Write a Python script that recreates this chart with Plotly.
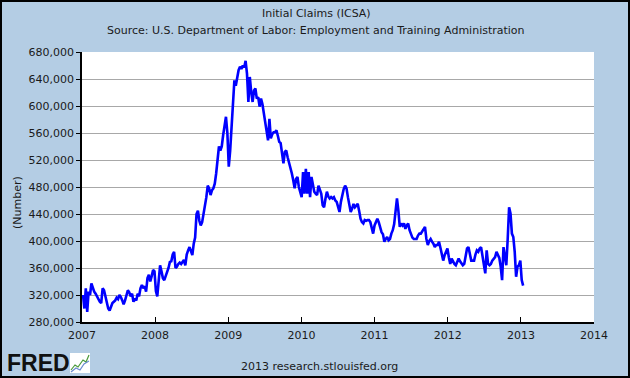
import datetime as dt
import plotly.graph_objects as go

# Weekly initial claims, thousands, weeks ending Saturday from 2007-01-06
claims_2007 = [320, 300, 330, 295, 325, 320, 337, 330, 325, 322, 318, 312, 310, 308, 330, 327, 318, 305, 300, 297,
               302, 308, 310, 312, 316, 314, 320, 317, 312, 306, 312, 318, 327, 324, 318, 322, 310, 315, 312, 322,
               318, 330, 335, 330, 333, 325, 345, 350, 340, 348, 357, 355]
claims_2008 = [326, 318, 340, 364, 355, 345, 342, 348, 352, 360, 369, 370, 380, 384, 360, 362, 366, 368, 366, 370,
               372, 364, 380, 386, 391, 385, 379, 396, 405, 440, 445, 430, 423, 428, 440, 448, 465, 482, 478, 468,
               475, 478, 485, 500, 520, 540, 534, 540, 557, 571, 584, 560]
claims_2009 = [510, 534, 564, 599, 638, 630, 643, 653, 658, 655, 660, 657, 667, 648, 606, 643, 621, 606, 623, 626,
               611, 613, 599, 611, 603, 590, 575, 564, 549, 581, 552, 558, 561, 561, 564, 556, 547, 545, 530, 515,
               532, 534, 524, 517, 510, 500, 490, 478, 492, 495, 480, 470]
claims_2010 = [465, 502, 470, 507, 470, 502, 465, 495, 482, 473, 470, 468, 482, 477, 470, 453, 450, 463, 473, 466,
               463, 465, 463, 465, 460, 458, 450, 443, 458, 468, 477, 482, 478, 465, 450, 443, 448, 455, 450, 452,
               455, 445, 433, 428, 426, 431, 430, 431, 431, 428, 418, 411]
claims_2011 = [423, 428, 433, 428, 418, 413, 410, 399, 403, 406, 401, 403, 411, 416, 425, 445, 463, 445, 421, 426,
               423, 426, 418, 423, 426, 416, 411, 405, 403, 403, 403, 408, 411, 411, 415, 418, 421, 403, 394, 400,
               403, 399, 396, 391, 394, 394, 399, 390, 379, 371, 379, 384]
claims_2012 = [389, 376, 366, 374, 369, 366, 364, 369, 374, 370, 366, 364, 366, 376, 389, 391, 380, 371, 371, 371,
               380, 386, 384, 389, 391, 376, 359, 352, 386, 366, 364, 366, 371, 374, 376, 384, 379, 375, 362, 342,
               391, 376, 364, 403, 450, 441, 411, 406, 384, 347, 362, 364]
claims_2013 = [371, 342, 334]

values_k = claims_2007 + claims_2008 + claims_2009 + claims_2010 + claims_2011 + claims_2012 + claims_2013
start = dt.date(2007, 1, 6)
dates = [start + dt.timedelta(weeks=i) for i in range(len(values_k))]
values = [v * 1000 for v in values_k]

y_ticks = list(range(280000, 680001, 40000))
y_labels = [f"{v:,}" for v in y_ticks]
x_ticks = [f"{y}-01-01" for y in range(2007, 2015)]
x_labels = [str(y) for y in range(2007, 2015)]

W, H = 630, 378
ML, MR, MT, MB = 82, 36, 52, 56
PW, PH = W - ML - MR, H - MT - MB

def px(x):
    return (x - ML) / PW

def py(y):
    return (H - MB - y) / PH

BG = "#b4cde4"
FONT = "DejaVu Sans"
TXT = "#1a1a1a"

def note(text, x, y, size=11, family=FONT, **kw):
    return dict(text=text, x=px(x), y=py(y), xref="paper", yref="paper", showarrow=False,
                xanchor=kw.pop("xanchor", "center"), yanchor="middle",
                font=dict(size=size, family=family, color=kw.pop("color", TXT)), **kw)

fig = go.Figure()
fig.add_trace(go.Scatter(x=dates, y=values, mode="lines",
                         line=dict(color="#0000ff", width=2.6), hoverinfo="skip"))

fig.update_layout(
    width=W, height=H,
    margin=dict(l=ML, r=MR, t=MT, b=MB, autoexpand=False),
    paper_bgcolor=BG, plot_bgcolor="white",
    showlegend=False,
    font=dict(family=FONT, size=11, color=TXT),
    xaxis=dict(range=["2007-01-01", "2014-01-01"], tickmode="array", tickvals=x_ticks, ticktext=x_labels,
               showgrid=False, zeroline=False, showline=True, linecolor="black", linewidth=1.5,
               ticks="inside", ticklen=5, tickcolor="black", tickwidth=1, ticklabelstandoff=2,
               automargin=False),
    yaxis=dict(range=[280000, 680000], tickmode="array", tickvals=y_ticks, ticktext=y_labels,
               showgrid=True, gridcolor="#a8a8a8", gridwidth=1, zeroline=False,
               showline=True, linecolor="black", linewidth=1.5,
               ticks="outside", ticklen=4, tickcolor="black", tickwidth=1, automargin=False),
    annotations=[
        note("Initial Claims (ICSA)", 316, 14),
        note("Source: U.S. Department of Labor: Employment and Training Administration", 316, 30),
        note("(Number)", 17, 203, textangle=-90),
        note("2013 research.stlouisfed.org", 319, 366),
        note("<b>FRED</b>", 5, 363, size=23, family="Liberation Sans", color="#111111", xanchor="left"),
    ],
    shapes=[
        dict(type="rect", xref="paper", yref="paper", x0=px(1), x1=px(W - 1), y0=py(H - 1), y1=py(1),
             line=dict(color="black", width=2), layer="above"),
        dict(type="rect", xref="paper", yref="paper", x0=px(70), x1=px(90), y0=py(373), y1=py(353),
             line=dict(width=0), fillcolor="white"),
        dict(type="path", xref="paper", yref="paper",
             path=f"M {px(71)} {py(370)} L {px(75)} {py(365)} L {px(78)} {py(367)} L {px(83)} {py(360)} L {px(86)} {py(362)} L {px(89)} {py(355)}",
             line=dict(color="#4a9a3a", width=1.2)),
        dict(type="path", xref="paper", yref="paper",
             path=f"M {px(71)} {py(372)} L {px(76)} {py(368)} L {px(80)} {py(370)} L {px(84)} {py(364)} L {px(89)} {py(361)}",
             line=dict(color="#6a8ad0", width=1.2)),
    ],
)

fig.write_html("out.html", config={"displayModeBar": False},
               post_script="document.body.style.margin='0';document.body.style.overflow='hidden';")
